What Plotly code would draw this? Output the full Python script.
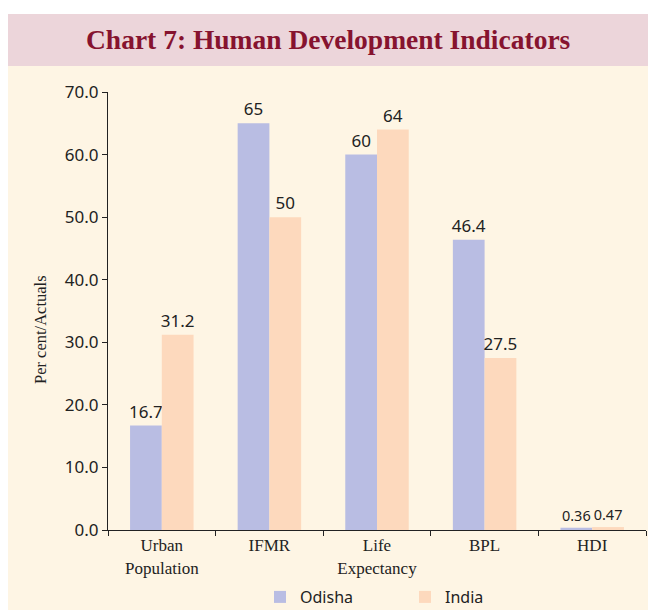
import plotly.graph_objects as go

categories = ["Urban<br>Population", "IFMR", "Life<br>Expectancy", "BPL", "HDI"]
odisha = [16.7, 65, 60, 46.4, 0.36]
india = [31.2, 50, 64, 27.5, 0.47]
odisha_labels = ["16.7", "65", "60", "46.4", "0.36"]
india_labels = ["31.2", "50", "64", "27.5", "0.47"]
y_ticks = [0, 10, 20, 30, 40, 50, 60, 70]
y_tick_labels = ["0.0", "10.0", "20.0", "30.0", "40.0", "50.0", "60.0", "70.0"]

W, H = 648, 602
L, R, T, B = 100, 10, 84, 80
PW, PH = W - L - R, H - T - B
sans = "Noto Sans, Open Sans, sans-serif"
serif = "Liberation Serif, DejaVu Serif, serif"
label_sizes = [17, 17, 17, 17, 14.5]


def px(xf):
    return (xf - L) / PW


def py(yf):
    return (H - B - yf) / PH


fig = go.Figure()
fig.add_trace(go.Bar(name="Odisha", x=categories, y=odisha, text=odisha_labels,
                     textposition="outside", constraintext="none",
                     marker=dict(color="#b9bde3", line=dict(width=0)),
                     textfont=dict(family=sans, size=label_sizes, color="#222"), cliponaxis=False))
fig.add_trace(go.Bar(name="India", x=categories, y=india, text=india_labels,
                     textposition="outside", constraintext="none",
                     marker=dict(color="#fdd9bd", line=dict(width=0)),
                     textfont=dict(family=sans, size=label_sizes, color="#222"), cliponaxis=False))

fig.update_layout(
    width=W, height=H,
    paper_bgcolor="white", plot_bgcolor="rgba(0,0,0,0)",
    margin=dict(l=L, r=R, t=T, b=B, autoexpand=False),
    barmode="group", bargap=0.41, bargroupgap=0,
    uniformtext=dict(mode=False),
    showlegend=True,
    legend=dict(orientation="h", x=px(252), xref="paper", xanchor="left", y=py(589), yanchor="middle",
                font=dict(family=sans, size=16, color="#222"),
                entrywidth=100, entrywidthmode="pixels", bgcolor="rgba(0,0,0,0)",
                itemsizing="constant"),
    shapes=[
        dict(type="rect", xref="paper", yref="paper", x0=px(0), x1=px(W),
             y0=py(58), y1=py(6),
             fillcolor="#ecd5da", line=dict(width=0), layer="below"),
        dict(type="rect", xref="paper", yref="paper", x0=px(0), x1=px(W),
             y0=py(H), y1=py(58),
             fillcolor="#fef5e4", line=dict(width=0), layer="below"),
    ],
    annotations=[
        dict(text="<b>Chart 7: Human Development Indicators</b>", xref="paper", yref="paper",
             x=px(320), y=py(32), xanchor="center", yanchor="middle",
             showarrow=False, font=dict(family=serif, size=27.5, color="#86132f")),
        dict(text="Per cent/Actuals", xref="paper", yref="paper",
             x=px(32), y=py(322), xanchor="center", yanchor="middle", textangle=-90,
             showarrow=False, font=dict(family=serif, size=16.5, color="#222")),
    ],
    xaxis=dict(showline=True, linecolor="#222", linewidth=1, ticks="outside", ticklen=5,
               tickcolor="#222", tickson="boundaries", showgrid=False,
               tickfont=dict(family=serif, size=17, color="#222")),
    yaxis=dict(range=[0, 70], tickvals=y_ticks, ticktext=y_tick_labels, showline=True,
               linecolor="#222", linewidth=1, ticks="outside", ticklen=5, tickcolor="#222",
               showgrid=False, zeroline=False,
               tickfont=dict(family=sans, size=17, color="#222")),
)
fig.write_html("out.html")
